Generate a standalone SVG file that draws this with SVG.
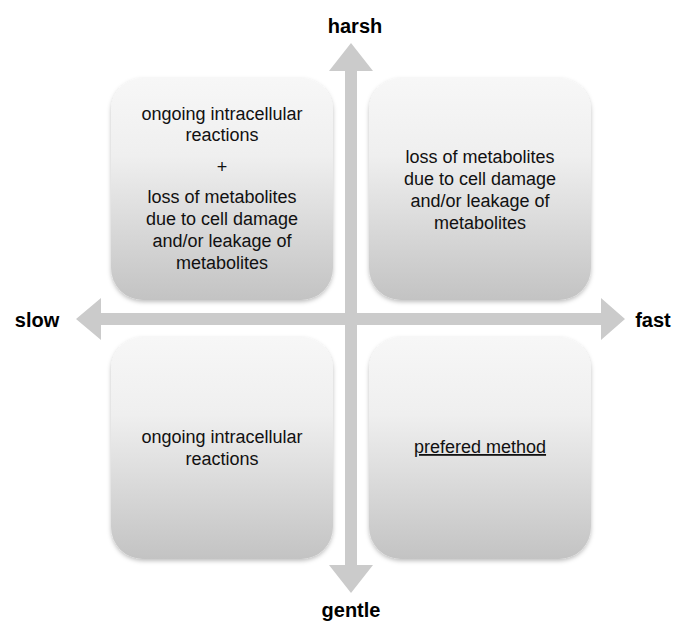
<svg xmlns="http://www.w3.org/2000/svg" width="679" height="623" viewBox="0 0 679 623">
<defs>
<linearGradient id="boxGrad" x1="0" y1="0" x2="0" y2="1">
<stop offset="0" stop-color="#f7f7f7"/>
<stop offset="0.35" stop-color="#efefef"/>
<stop offset="1" stop-color="#c3c3c3"/>
</linearGradient>
<filter id="shadow" x="-10%" y="-10%" width="120%" height="125%">
<feDropShadow dx="0" dy="2" stdDeviation="2" flood-color="#000" flood-opacity="0.25"/>
</filter>
</defs>
<style>
.box{fill:url(#boxGrad);filter:url(#shadow);}
.t{font-family:"Liberation Sans",Arial,sans-serif;font-size:18px;fill:#111;text-anchor:middle;}
.lbl{font-family:"Liberation Sans",Arial,sans-serif;font-size:20px;font-weight:bold;fill:#000;text-anchor:middle;}
.axis{fill:#cbcbcb;}
</style>
<rect width="679" height="623" fill="#fff"/>
<g id="connectors">
<polygon class="axis" points="76,319 101,298 101,313 601,313 601,298 625,319 601,340 601,325 101,325 101,340"/>
<polygon class="axis" points="351,43 373,71 357,71 357,565 373,565 351,593 329,565 345,565 345,71 329,71"/>
</g>
<g id="box-tl">
<rect class="box" x="111" y="78" width="222" height="222" rx="32"/>
<text class="t" x="222" y="120">ongoing intracellular</text>
<text class="t" x="222" y="141">reactions</text>
<text class="t" x="222" y="173">+</text>
<text class="t" x="222" y="203">loss of metabolites</text>
<text class="t" x="222" y="225">due to cell damage</text>
<text class="t" x="222" y="247">and/or leakage of</text>
<text class="t" x="222" y="269">metabolites</text>
</g>
<g id="box-tr">
<rect class="box" x="369" y="78" width="222" height="222" rx="32"/>
<text class="t" x="480" y="163">loss of metabolites</text>
<text class="t" x="480" y="185">due to cell damage</text>
<text class="t" x="480" y="207">and/or leakage of</text>
<text class="t" x="480" y="229">metabolites</text>
</g>
<g id="box-bl">
<rect class="box" x="111" y="337" width="222" height="222" rx="32"/>
<text class="t" x="222" y="443">ongoing intracellular</text>
<text class="t" x="222" y="465">reactions</text>
</g>
<g id="box-br">
<rect class="box" x="369" y="337" width="222" height="222" rx="32"/>
<text class="t" x="480" y="453" text-decoration="underline">prefered method</text>
</g>
<g id="label-harsh"><text class="lbl" x="355" y="33">harsh</text></g>
<g id="label-gentle"><text class="lbl" x="351" y="617">gentle</text></g>
<g id="label-slow"><text class="lbl" x="37" y="327">slow</text></g>
<g id="label-fast"><text class="lbl" x="653" y="327">fast</text></g>
</svg>
